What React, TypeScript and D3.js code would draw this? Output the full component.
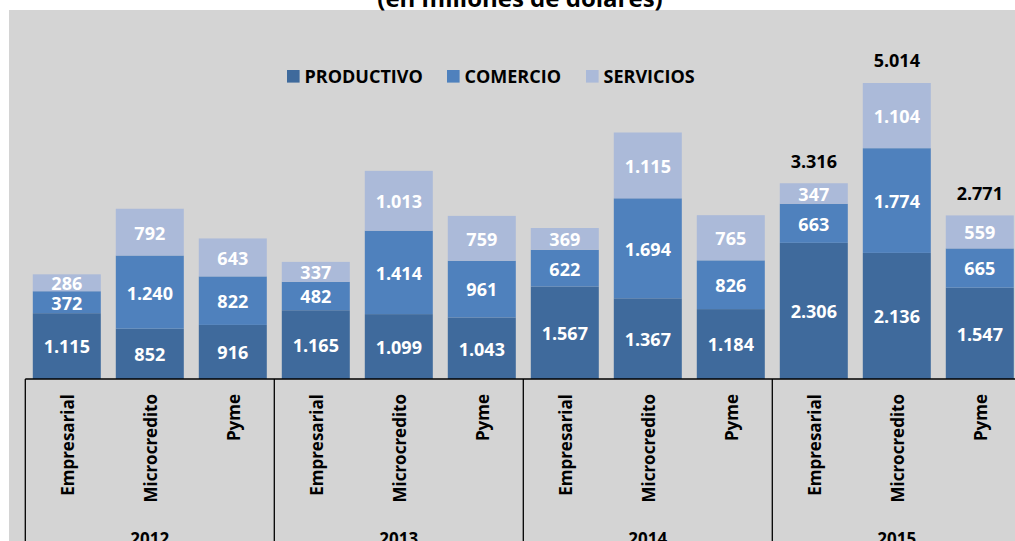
import React from "react";
import * as d3 from "d3";

const years = ["2012", "2013", "2014", "2015"];
const segments = ["Empresarial", "Microcredito", "Pyme"];
const seriesNames = ["PRODUCTIVO", "COMERCIO", "SERVICIOS"];
const productivo = [1115, 852, 916, 1165, 1099, 1043, 1567, 1367, 1184, 2306, 2136, 1547];
const comercio = [372, 1240, 822, 482, 1414, 961, 622, 1694, 826, 663, 1774, 665];
const servicios = [286, 792, 643, 337, 1013, 759, 369, 1115, 765, 347, 1104, 559];
const totalLabelYears = ["2015"];
const colors = ["#3f6a9c", "#4f81bd", "#abbad9"];
const title = "(en millones de dólares)";

const W = 1015;
const H = 541;
const FONT = "'Open Sans', 'Liberation Sans', sans-serif";

export default function App() {
  const keys: string[] = [];
  years.forEach((y) => segments.forEach((s) => keys.push(y + "|" + s)));
  const rows = keys.map((k, i) => ({
    key: k,
    year: k.split("|")[0],
    seg: k.split("|")[1],
    PRODUCTIVO: productivo[i],
    COMERCIO: comercio[i],
    SERVICIOS: servicios[i],
  }));
  const stack = d3.stack<any>().keys(seriesNames)(rows);

  const x0 = 25.3;
  const step = 83;
  const x = d3
    .scaleBand<string>()
    .domain(keys)
    .range([x0, x0 + keys.length * step])
    .paddingInner(15 / 83)
    .paddingOuter(7.5 / 83);
  const y = d3.scaleLinear().domain([0, 6000]).range([379, 24.8]);
  const fmt = d3
    .formatLocale({ decimal: ",", thousands: ".", grouping: [3], currency: ["", ""] })
    .format(",d");

  const baseY = y(0);
  const groupEdges = years.map((_, i) => x0 + i * 3 * step);
  groupEdges.push(x0 + years.length * 3 * step);

  const legendX = [287, 447, 586];

  return (
    <svg
      width={W}
      height={H}
      style={{ position: "absolute", left: 0, top: 0, background: "#fff" }}
      fontFamily={FONT}
    >
      <rect x={9} y={10} width={W - 9} height={H - 10} fill="#d4d4d4" />
      <text x={520} y={7} textAnchor="middle" fontSize={24} fontWeight={700} fill="#000">
        {title}
      </text>

      {/* legend */}
      {seriesNames.map((n, i) => (
        <g key={n}>
          <rect x={legendX[i]} y={70} width={12.6} height={12.6} fill={colors[i]} />
          <text x={legendX[i] + 17.5} y={82.5} fontSize={18} fontWeight={700} fill="#000">
            {n}
          </text>
        </g>
      ))}

      {/* bars */}
      {stack.map((layer, si) => (
        <g key={layer.key}>
          {layer.map((d: any, i: number) => {
            const k = keys[i];
            const bx = x(k)!;
            const top = y(d[1]);
            const bot = y(d[0]);
            const cy = (top + bot) / 2;
            return (
              <g key={k}>
                <rect x={bx} y={top} width={x.bandwidth()} height={bot - top} fill={colors[si]} />
                <text
                  x={bx + x.bandwidth() / 2}
                  y={cy + 7.4}
                  textAnchor="middle"
                  fontSize={18}
                  fontWeight={700}
                  fill="#fff"
                >
                  {fmt(d[1] - d[0])}
                </text>
              </g>
            );
          })}
        </g>
      ))}

      {/* totals */}
      {rows.map((r, i) => {
        if (!totalLabelYears.includes(r.year)) return null;
        const total = stack[stack.length - 1][i][1];
        return (
          <text
            key={"t" + r.key}
            x={x(r.key)! + x.bandwidth() / 2}
            y={y(total) - 22 + 6.4}
            textAnchor="middle"
            fontSize={18}
            fontWeight={700}
            fill="#000"
          >
            {fmt(total)}
          </text>
        );
      })}

      {/* axis */}
      <line x1={x0} x2={W} y1={baseY} y2={baseY} stroke="#000" strokeWidth={1.4} />
      {groupEdges.map((gx, i) => (
        <line key={"g" + i} x1={gx} x2={gx} y1={baseY} y2={H} stroke="#000" strokeWidth={1.3} />
      ))}

      {/* category labels */}
      {rows.map((r) => {
        const cx = x(r.key)! + x.bandwidth() / 2;
        return (
          <text
            key={"c" + r.key}
            transform={`translate(${cx + 7},394) rotate(-90)`}
            textAnchor="end"
            fontSize={17}
            fontWeight={700}
            fill="#000"
          >
            {r.seg}
          </text>
        );
      })}

      {/* year labels */}
      {years.map((yr, i) => (
        <text
          key={yr}
          x={(groupEdges[i] + groupEdges[i + 1]) / 2}
          y={545}
          textAnchor="middle"
          fontSize={17}
          fontWeight={700}
          fill="#000"
        >
          {yr}
        </text>
      ))}
    </svg>
  );
}
